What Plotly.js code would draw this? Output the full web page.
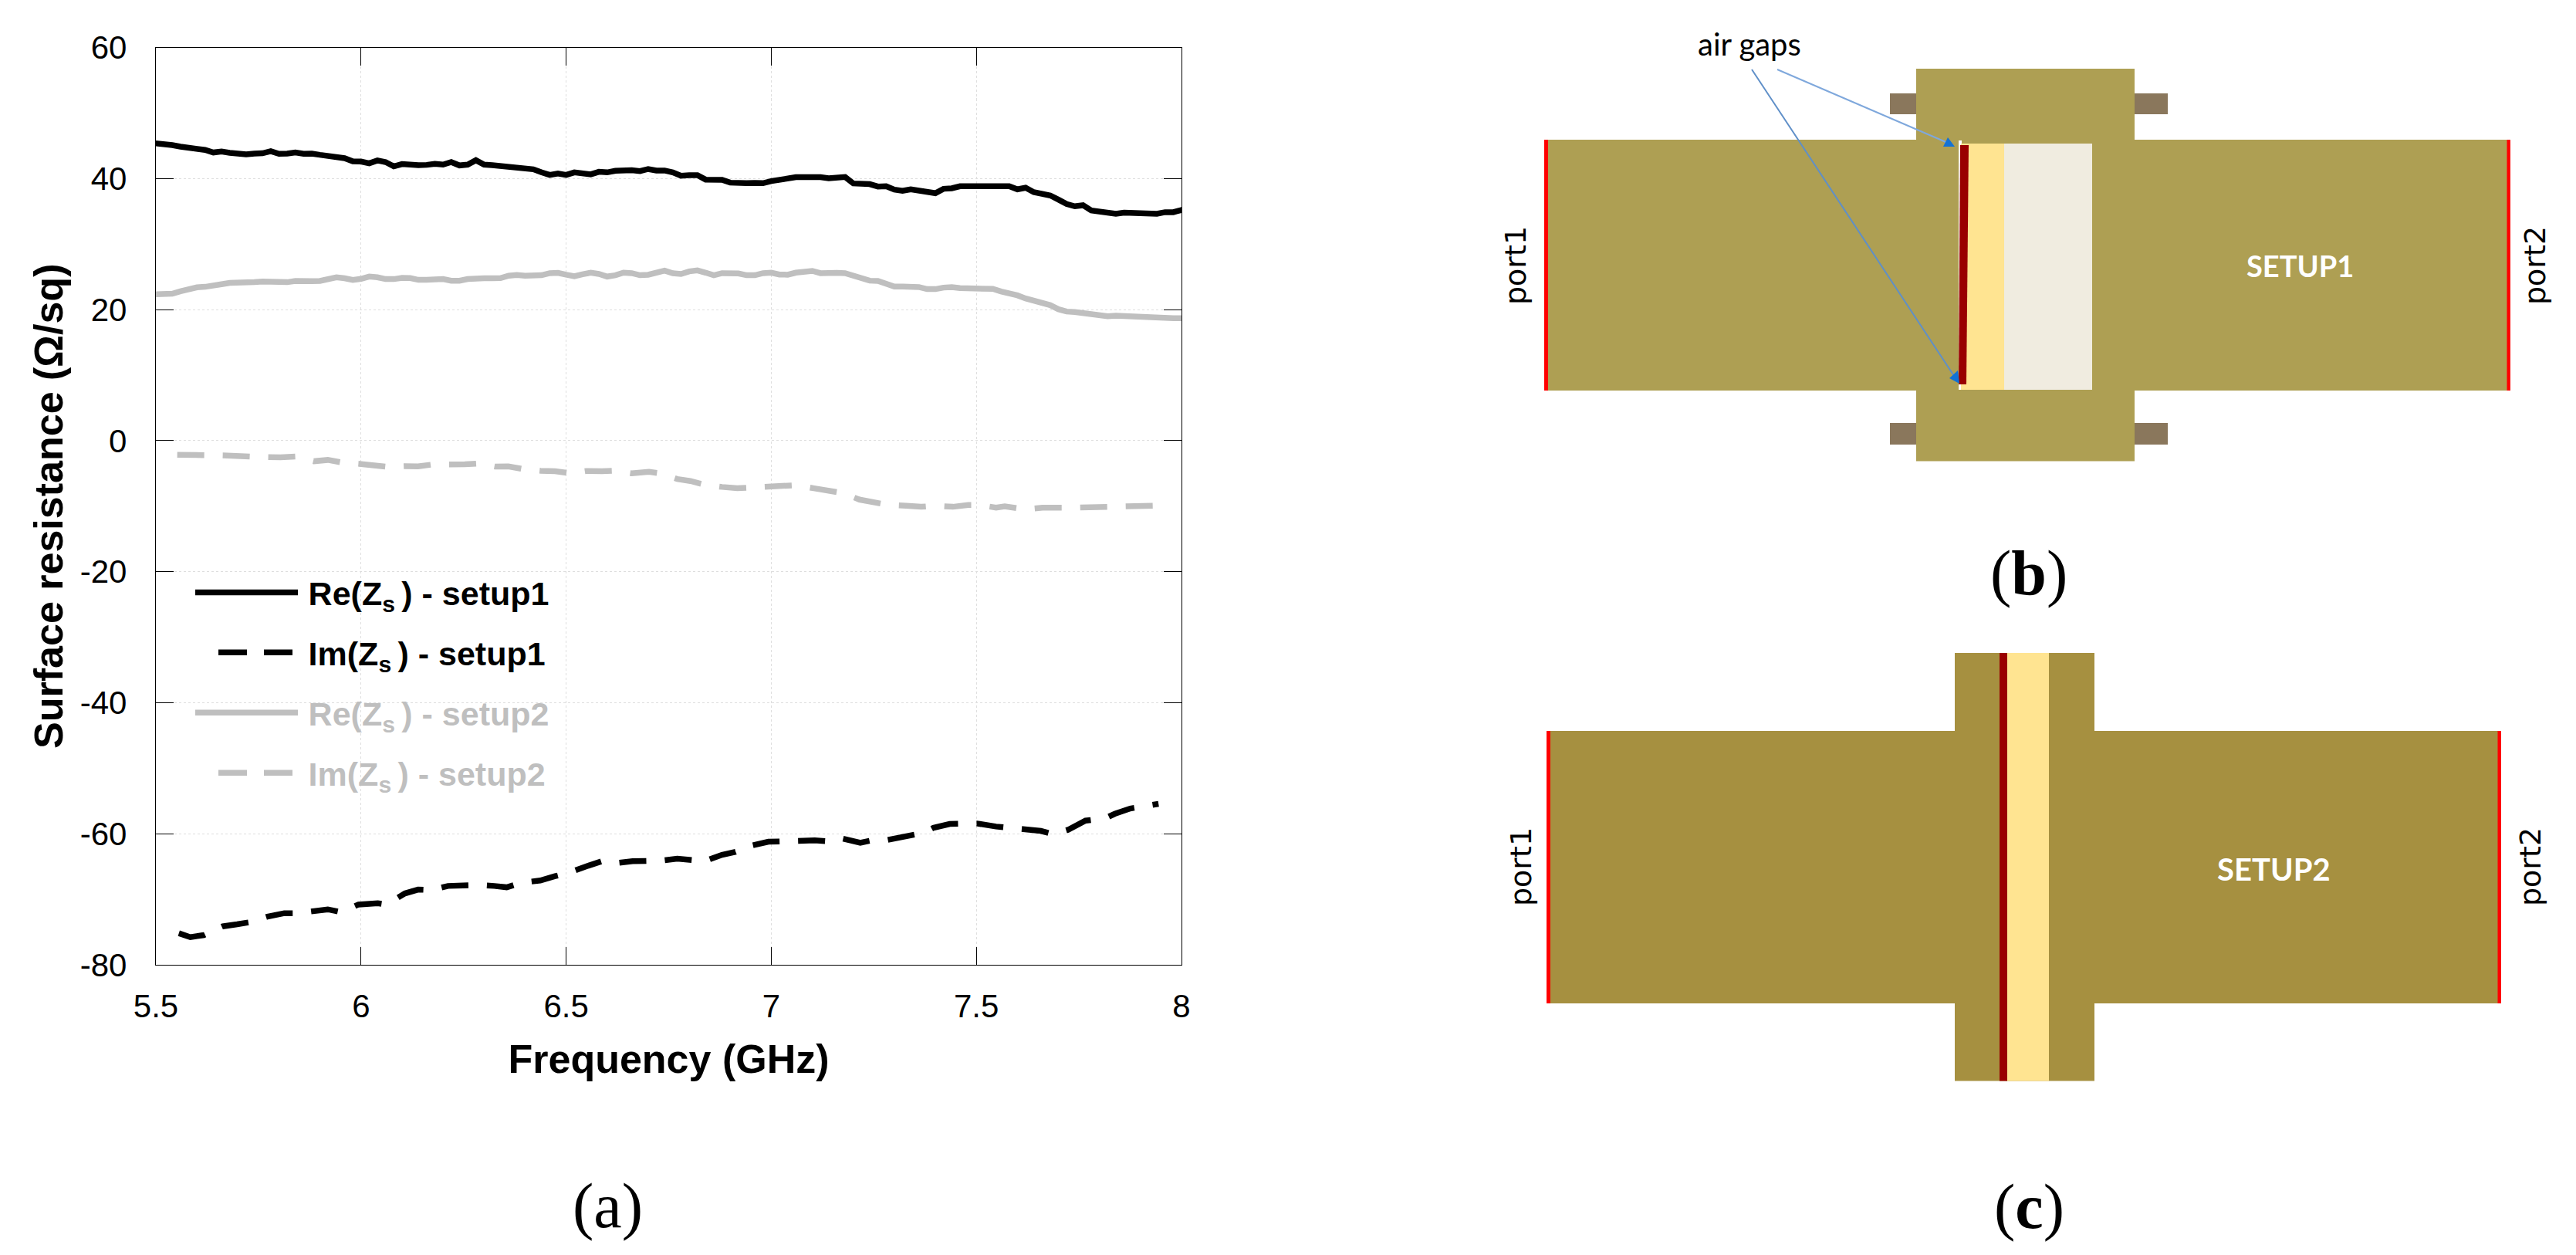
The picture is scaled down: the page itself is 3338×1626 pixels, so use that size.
<!DOCTYPE html>
<html>
<head>
<meta charset="utf-8">
<script src="https://cdn.plot.ly/plotly-3.0.1.min.js"></script>
<style>html,body{margin:0;padding:0;background:#fff}#chart{width:3338px;height:1626px}</style>
</head>
<body>
<div id="chart"></div>
<script>
const freq = [5.492,5.52,5.54,5.56,5.58,5.6,5.62,5.64,5.66,5.68,5.7,5.72,5.74,5.76,5.78,5.8,5.82,5.84,5.86,5.88,5.9,5.92,5.94,5.96,5.98,6,6.02,6.04,6.06,6.08,6.1,6.12,6.14,6.16,6.18,6.2,6.22,6.24,6.26,6.28,6.3,6.32,6.34,6.36,6.38,6.4,6.42,6.44,6.46,6.48,6.5,6.52,6.54,6.56,6.58,6.6,6.62,6.64,6.66,6.68,6.7,6.72,6.74,6.76,6.78,6.8,6.82,6.84,6.86,6.88,6.9,6.92,6.94,6.96,6.98,7,7.02,7.04,7.06,7.08,7.1,7.12,7.14,7.16,7.18,7.2,7.22,7.24,7.26,7.28,7.3,7.32,7.34,7.36,7.38,7.4,7.42,7.44,7.46,7.48,7.5,7.52,7.54,7.56,7.58,7.6,7.62,7.64,7.66,7.68,7.7,7.72,7.74,7.76,7.78,7.8,7.82,7.84,7.86,7.88,7.9,7.92,7.94,7.96,7.98,8.008];
const reSetup1 = [45.42,45.30,45.10,44.87,44.75,44.48,44.36,43.97,44.12,43.93,43.81,43.69,43.81,43.85,44.16,43.77,43.81,43.97,43.77,43.81,43.61,43.49,43.22,43.10,42.63,42.59,42.32,42.75,42.51,41.85,42.20,42.04,42.04,42.08,42.24,42.12,42.51,42.00,42.12,42.79,42.12,42.04,41.92,41.73,41.61,41.37,41.41,40.94,40.55,40.75,40.55,40.94,40.86,40.63,41.02,40.94,41.18,41.33,41.26,41.14,41.45,41.22,41.22,40.94,40.43,40.51,40.51,39.84,39.73,39.80,39.37,39.25,39.29,39.33,39.29,39.61,39.84,39.96,40.20,40.20,40.27,40.20,40.04,40.04,40.24,39.25,39.29,39.14,38.78,38.82,38.31,38.12,38.35,38.15,38.12,37.76,38.43,38.51,38.82,38.82,38.70,38.78,38.70,38.74,38.82,38.35,38.59,37.92,37.68,37.41,36.78,36.11,35.76,35.92,35.13,34.90,34.78,34.62,34.78,34.70,34.70,34.54,34.62,34.86,34.86,35.33];
const reSetup2 = [22.33,22.33,22.41,22.80,23.20,23.39,23.47,23.59,23.86,24.06,24.06,24.02,24.18,24.29,24.29,24.14,24.18,24.37,24.45,24.33,24.37,24.65,24.92,24.77,24.53,24.69,25.04,24.92,24.65,24.65,24.84,24.80,24.53,24.53,24.65,24.65,24.41,24.41,24.65,24.77,24.77,24.77,24.80,25.16,25.28,25.16,25.16,25.24,25.55,25.59,25.32,25.08,25.39,25.63,25.43,25.04,25.24,25.63,25.55,25.24,25.32,25.71,25.94,25.55,25.43,25.83,25.98,25.63,25.24,25.55,25.63,25.51,25.24,25.24,25.55,25.63,25.35,25.32,25.63,25.79,25.90,25.55,25.47,25.59,25.55,25.16,24.57,24.41,24.37,23.90,23.51,23.51,23.55,23.43,23.12,23.12,23.35,23.43,23.27,23.27,23.31,23.27,23.16,22.76,22.49,22.17,21.70,21.31,21.11,20.68,20.05,19.70,19.62,19.43,19.19,18.99,18.99,19.07,18.99,18.92,18.99,18.95,18.76,18.68,18.68,18.68];
const imFreq1 = [5.556,5.584,5.617,5.663,5.698,5.729,5.772,5.813,5.844,5.881,5.919,5.951,5.994,6.041,6.062,6.107,6.139,6.171,6.212,6.249,6.286,6.325,6.355,6.392,6.437,6.473,6.506,6.549,6.587,6.616,6.662,6.728,6.771,6.837,6.880,6.913,6.949,6.993,7.059,7.106,7.145,7.172,7.217,7.251,7.280,7.322,7.373,7.395,7.435,7.501,7.548,7.614,7.657,7.688,7.723,7.766,7.814,7.838,7.875,7.944];
const imSetup1 = [-75.19,-75.78,-75.47,-74.13,-73.82,-73.50,-72.64,-72.13,-72.13,-71.93,-71.54,-71.97,-70.80,-70.60,-70.80,-69.11,-68.52,-68.60,-67.97,-67.89,-67.81,-67.97,-68.17,-67.46,-67.14,-66.48,-65.97,-64.98,-64.20,-64.51,-64.20,-64.12,-63.81,-64.20,-63.22,-62.75,-61.84,-61.22,-60.98,-61.02,-61.18,-60.71,-61.37,-60.94,-60.98,-60.39,-59.84,-59.10,-58.51,-58.43,-58.90,-59.29,-59.57,-60.08,-59.41,-58.00,-57.64,-56.94,-56.15,-55.44];
const imFreq2 = [5.552,5.617,5.663,5.729,5.774,5.804,5.840,5.885,5.919,5.951,5.996,6.025,6.065,6.107,6.139,6.173,6.216,6.253,6.284,6.327,6.359,6.394,6.438,6.473,6.512,6.549,6.587,6.617,6.660,6.702,6.730,6.771,6.803,6.839,6.880,6.917,6.953,6.995,7.061,7.104,7.137,7.175,7.215,7.243,7.285,7.329,7.365,7.400,7.443,7.480,7.506,7.548,7.569,7.619,7.661,7.728,7.776,7.842,7.885,7.950];
const imSetup2 = [-2.17,-2.17,-2.25,-2.44,-2.56,-2.56,-2.44,-3.15,-2.95,-3.31,-3.54,-3.82,-4.01,-3.89,-3.93,-3.66,-3.70,-3.62,-3.50,-3.97,-3.93,-4.33,-4.60,-4.68,-5.00,-4.64,-4.68,-4.60,-5.00,-4.76,-5.00,-5.86,-6.17,-6.76,-7.07,-7.27,-7.15,-6.96,-6.80,-7.27,-7.55,-8.02,-9.00,-9.31,-9.82,-9.94,-10.10,-9.94,-10.10,-9.82,-9.82,-10.22,-10.02,-10.49,-10.25,-10.25,-10.18,-9.90,-9.90,-9.90];
const seriesNames = ['\u2009Re(Z<sub>s </sub>) - setup1','\u2009Im(Z<sub>s </sub>) - setup1','\u2009Re(Z<sub>s </sub>) - setup2','\u2009Im(Z<sub>s </sub>) - setup2'];
const xTicks = [5.5,6,6.5,7,7.5,8];
const xTickLabels = ['5.5','6','6.5','7','7.5','8'];
const yTicks = [-80,-60,-40,-20,0,20,40,60];
const yTickLabels = ['-80','-60','-40','-20','0','20','40','60'];

const W = 3338, H = 1626;
const BLACK = '#000000', GRAY = '#bfbfbf';
const px = v => v / W;
const py = v => 1 - v / H;
const rect = (x0, y0, x1, y1, fill) => ({type:'rect', xref:'paper', yref:'paper', x0:px(x0), x1:px(x1), y0:py(y1), y1:py(y0), fillcolor:fill, line:{width:0}});
const poly = (pts, fill) => ({type:'path', xref:'paper', yref:'paper', fillcolor:fill, line:{width:0},
  path:'M' + pts.map(p => px(p[0]) + ',' + py(p[1])).join('L') + 'Z'});
const seg = (x0, y0, x1, y1, color, width) => ({type:'line', xref:'paper', yref:'paper', x0:px(x0), x1:px(x1), y0:py(y0), y1:py(y1), line:{color, width}});
const label = (x, y, text, family, size, color, opts) => Object.assign({xref:'paper', yref:'paper', x:px(x), y:py(y), text, showarrow:false, xanchor:'center', yanchor:'middle', font:{family, size, color}}, opts || {});

const OLIVE1 = '#ae9f53', OLIVE2 = '#a69040', BROWN = '#8a775c', RED = '#ff0000', DARK = '#990000', YEL = '#ffe491', CREAM = '#f0ece0';
const shapes = [
  {type:'rect', xref:'x', yref:'y', layer:'below', x0:5.5, x1:6.497, y0:-59, y1:-17.2, fillcolor:'#ffffff', line:{width:0}},
  // panel (b)
  rect(2449,121,2483,148,BROWN), rect(2766,121,2809,148,BROWN), rect(2449,548,2483,576,BROWN), rect(2766,548,2809,576,BROWN),
  rect(2001,181,3251,506,OLIVE1), rect(2483,89,2766,597.5,OLIVE1),
  rect(2538,182,2542,505,'#ffffff'),
  rect(2541,186,2597,505,YEL), rect(2597,186,2711,505,CREAM),
  poly([[2540,188],[2551,188],[2548,498],[2538,498]],DARK),
  rect(2001,181,2006,506,RED), rect(3248.5,181,3253,506,RED),
  seg(2303,90,2526,186,'#7fa8dc',2), seg(2270,90,2534,490,'#5f8fc8',2),
  poly([[2518,190],[2533,190],[2524,178]],'#1272d6'), poly([[2526,490],[2539,497],[2537,480]],'#1272d6'),
  // panel (c)
  rect(2005,947,3239,1300,OLIVE2), rect(2533,846,2714,1400.5,OLIVE2),
  rect(2591,846,2601,1400.5,DARK), rect(2601,846,2655,1400.5,YEL),
  rect(2004,947,2009,1300,RED), rect(3236.5,947,3241,1300,RED)
];
const annotations = [
  label(787,1562,'(a)','Liberation Serif',82,'#000'),
  label(2629,742,'(<b>b</b>)','Liberation Serif',82,'#000'),
  label(2629,1563,'(<b>c</b>)','Liberation Serif',82,'#000'),
  label(2267,57,'air gaps','Lato',40,'#000'),
  label(1964,344,'port1','DejaVu Sans',38,'#000',{textangle:-90}),
  label(3285,344,'port2','DejaVu Sans',38,'#000',{textangle:-90}),
  label(2980,344,'<b>SETUP1</b>','Lato',38,'#ffffff'),
  label(1971,1123,'port1','DejaVu Sans',38,'#000',{textangle:-90}),
  label(3279,1123,'port2','DejaVu Sans',38,'#000',{textangle:-90}),
  label(2946,1126,'<b>SETUP2</b>','Lato',40,'#ffffff')
];

const DASH = '35px,24px';
const legendDash = '0px,30px,37px,22px,37px,40px';
const LW = 7.5;
const colored = (name, c) => '<span style="color:' + c + '">' + name + '</span>';
const line = (x, y, name, color, dash, rank, show) => ({x, y, name, type:'scatter', mode:'lines', cliponaxis:false,
  line:{color, width:LW, dash, shape:'linear'}, showlegend:show, legendrank:rank, legendgroup:'g'+rank, hoverinfo:'skip'});
const proxy = (name, color, rank) => ({x:[null], y:[null], name, type:'scatter', mode:'lines',
  line:{color, width:LW, dash:legendDash}, showlegend:true, legendrank:rank, legendgroup:'g'+rank});

const traces = [
  line(freq, reSetup1, colored(seriesNames[0],BLACK), BLACK, 'solid', 1, true),
  line(imFreq1, imSetup1, seriesNames[1], BLACK, DASH, 2, false),
  line(freq, reSetup2, colored(seriesNames[2],GRAY), GRAY, 'solid', 3, true),
  line(imFreq2, imSetup2, seriesNames[3], GRAY, DASH, 4, false),
  proxy(colored(seriesNames[1],BLACK), BLACK, 2),
  proxy(colored(seriesNames[3],GRAY), GRAY, 4)
];

const axisFont = {family:'Liberation Sans', size:42, color:'#000'};
const titleFont = {family:'Liberation Sans', size:52, color:'#000', weight:700};
const common = {showline:true, linecolor:'#000', linewidth:1.3, mirror:'ticks', ticks:'inside', ticklen:23, tickwidth:1.3, tickcolor:'#000',
  showgrid:true, gridcolor:'#dedede', griddash:'dot', gridwidth:1, zeroline:false, tickfont:axisFont};

const layout = {
  width:W, height:H, margin:{l:0,r:0,t:0,b:0,pad:0}, paper_bgcolor:'#fff', plot_bgcolor:'#fff',
  xaxis:Object.assign({}, common, {domain:[202/W,1531/W], range:[5.5,8], tickmode:'array', tickvals:xTicks, ticktext:xTickLabels, ticklabelstandoff:16,
    title:{text:'Frequency (GHz)', font:titleFont, standoff:28}}),
  yaxis:Object.assign({}, common, {domain:[1-1250/H,1-61.5/H], range:[-80,60], tickmode:'array', tickvals:yTicks, ticktext:yTickLabels, ticklabelstandoff:28,
    title:{text:'Surface resistance (Ω/sq)', font:titleFont, standoff:5}}),
  showlegend:true,
  legend:{x:248/W, y:1-733/H, xanchor:'left', yanchor:'top', bgcolor:'rgba(255,255,255,0)', borderwidth:0, itemwidth:133, itemclick:false, itemdoubleclick:false,
    tracegroupgap:19, traceorder:'grouped', font:{family:'Liberation Sans', size:43, color:'#000', weight:700}},
  shapes, annotations
};
Plotly.newPlot('chart', traces, layout, {displayModeBar:false, responsive:false});
</script>
</body>
</html>
